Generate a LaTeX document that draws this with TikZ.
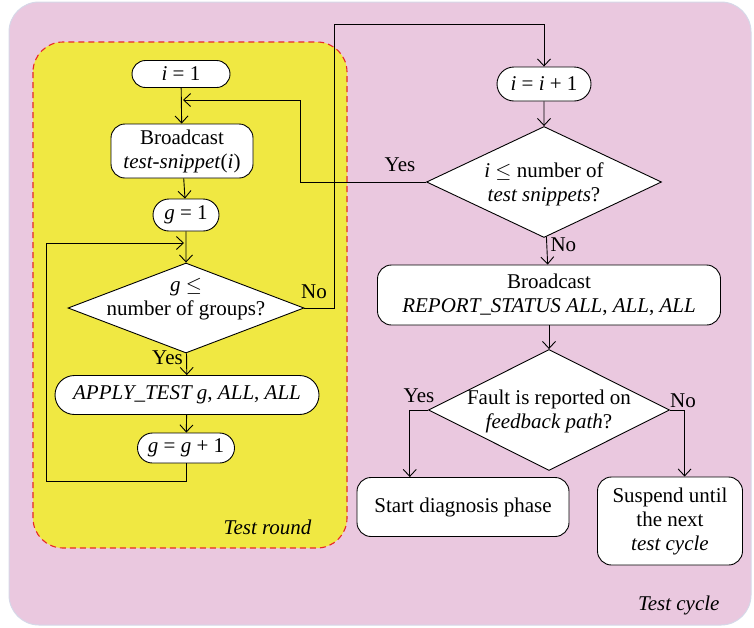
\documentclass[tikz,border=0pt]{standalone}
\usepackage{fontspec}
\setmainfont{Liberation Serif}
\usepackage{tikz}
\usetikzlibrary{shapes.geometric, shapes.misc, arrows.meta, positioning, calc}
\definecolor{cyclepink}{HTML}{EAC8DF}
\definecolor{cycleframe}{HTML}{D6D8E8}
\definecolor{roundyellow}{HTML}{F0E842}
\definecolor{rounddash}{HTML}{E82828}

\begin{document}
\begin{tikzpicture}[
    x=1pt, y=-1pt,
    font=\fontsize{21}{24}\selectfont,
    pill/.style={rounded rectangle, draw, fill=white, line width=0.9pt, inner sep=2pt},
    box/.style={rectangle, draw, fill=white, line width=0.9pt, rounded corners=14pt, align=center, inner sep=2pt},
    decision/.style={diamond, draw, fill=white, line width=0.9pt, inner sep=0pt},
    arr/.style={-{Straight Barb[length=7pt, width=13pt]}, line width=0.9pt},
]
    \useasboundingbox (0,0) rectangle (754,627);
    % Frames
    \draw[cycleframe, fill=cyclepink, line width=1pt, rounded corners=30pt] (9,2) rectangle (751,625);
    \draw[rounddash, fill=roundyellow, dashed, dash pattern=on 6pt off 4pt, line width=1.1pt, rounded corners=30pt] (33,42) rectangle (347,548);
    \node[anchor=east, font=\fontsize{21}{24}\itshape] (roundlbl) at (315,527) {Test round};
    \node[anchor=east, font=\fontsize{21}{24}\itshape] (cyclelbl) at (723,605) {Test cycle};

    % Test round
    \node[pill, minimum width=102pt, minimum height=27pt] (i1) at (181,74) {\textit{i} = 1};
    \node[box, minimum width=142pt, minimum height=54pt] (bc) at (182,151) {Broadcast\\\textit{test-snippet}(\textit{i})};
    \node[pill, minimum width=70pt, minimum height=32pt] (g1) at (186,215) {\textit{g} = 1};
    \node[decision, minimum width=236pt, minimum height=90pt,
          label={[align=center, yshift=9pt]center:\textit{g} $\leq$\\number of groups?}] (dg) at (186,308) {};
    \node[pill, minimum width=268pt, minimum height=39pt] (apply) at (187,395) {\textit{APPLY\_TEST g}, \textit{ALL}, \textit{ALL}};
    \node[pill, minimum width=101pt, minimum height=30pt] (ginc) at (186,448) {\textit{g} = \textit{g} + 1};
    \coordinate (loopin) at (184,243);
    \coordinate (yesin) at (183,100);

    % Test cycle
    \node[pill, minimum width=98pt, minimum height=34pt] (iinc) at (544,84) {\textit{i} = \textit{i} + 1};
    \node[decision, minimum width=235pt, minimum height=111pt,
          label={[align=center, yshift=-2pt]center:\textit{i} $\leq$ number of\\\textit{test snippets}?}] (di) at (544,182) {};
    \node[box, minimum width=343pt, minimum height=60pt] (rep) at (549,295) {Broadcast\\\textit{REPORT\_STATUS ALL}, \textit{ALL}, \textit{ALL}};
    \node[decision, minimum width=241pt, minimum height=121pt,
          label={[align=center, yshift=-1pt]center:Fault is reported on\\\textit{feedback path}?}] (df) at (549,410) {};
    \node[box, minimum width=212pt, minimum height=59pt] (start) at (463,507) {Start diagnosis phase};
    \node[box, minimum width=145pt, minimum height=88pt] (susp) at (670,521) {Suspend until\\the next\\\textit{test cycle}};

    % Connectors
    \draw[arr] (i1) -- (bc);
    \draw[arr] (bc) -- (g1);
    \draw[arr] (g1) -- (dg);
    \draw[arr] (dg) -- node[pos=0.2, left] {Yes} (apply);
    \draw[arr] (apply) -- (ginc);
    \draw[arr] (ginc.south) |- (46,481) |- (loopin);
    \draw[arr] (dg.east) -| (334,24) -| (iinc.north);
    \node at (314,292) {No};
    \draw[arr] (iinc) -- (di);
    \draw[arr] (di.west) -| (300,100) -- (yesin);
    \node at (400,165) {Yes};
    \draw[arr] (di) -- node[pos=0.3, right] {No} (rep);
    \draw[arr] (rep) -- (df);
    \draw[arr] (df.west) -| ($(start.north west)!0.25!(start.north east)$);
    \node at (419,396) {Yes};
    \draw[arr] (df.east) -| ($(susp.north west)!0.6!(susp.north east)$);
    \node at (683,401) {No};
\end{tikzpicture}
\end{document}
